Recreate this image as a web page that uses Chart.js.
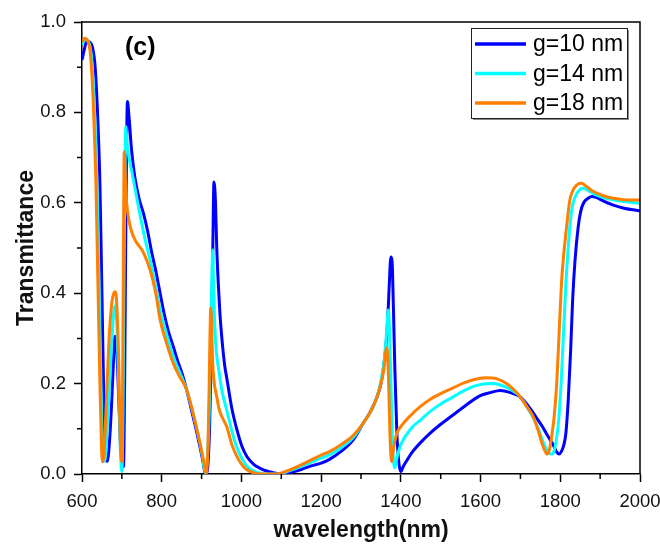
<!DOCTYPE html>
<html>
<head>
<meta charset="utf-8">
<script src="https://cdn.jsdelivr.net/npm/chart.js@4.4.1/dist/chart.umd.min.js"></script>
<style>
  body { margin: 0; background: #fff; }
  #wrap { width: 660px; height: 548px; position: relative; }
</style>
</head>
<body>
<div id="wrap"><canvas id="chartT"></canvas></div>
<script>
// wavelength (nm) and transmittance
const wl10 = [600,606,612,620,626,633,641,645,650,655,660,663,668,674,680,683,687,692,697,701,704,707,710,714,718,724,732,743,754,764,775,785,796,806,817,829,840,850,862,875,886,896,903,908,912,916,920,924,927,929,931,935,938,942,946,952,958,964,976,989,1001,1014,1030,1046,1065,1085,1100,1125,1150,1175,1200,1222,1250,1280,1306,1325,1340,1350,1358,1364,1368,1371,1375,1378,1381,1385,1390,1395,1400,1405,1415,1430,1450,1473,1500,1530,1560,1598,1624,1650,1675,1699,1720,1740,1755,1766,1775,1782,1790,1797,1803,1809,1814,1820,1826,1831,1837,1845,1851,1858,1868,1879,1890,1910,1933,1960,2000];
const t10 = [0.916,0.94,0.958,0.955,0.945,0.90,0.754,0.64,0.40,0.15,0.035,0.028,0.06,0.15,0.27,0.305,0.28,0.17,0.06,0.025,0.016,0.20,0.55,0.824,0.79,0.72,0.66,0.61,0.577,0.54,0.49,0.45,0.40,0.355,0.315,0.282,0.25,0.225,0.188,0.14,0.10,0.06,0.03,0.005,0.0,0.02,0.1,0.25,0.42,0.55,0.646,0.6,0.503,0.42,0.356,0.29,0.24,0.208,0.145,0.097,0.062,0.038,0.022,0.013,0.006,0.002,0.0,0.004,0.01,0.018,0.024,0.033,0.05,0.075,0.113,0.14,0.17,0.2,0.245,0.3,0.36,0.42,0.48,0.47,0.38,0.23,0.09,0.025,0.005,0.015,0.03,0.05,0.07,0.09,0.11,0.13,0.15,0.173,0.18,0.185,0.18,0.171,0.15,0.125,0.105,0.088,0.075,0.065,0.05,0.044,0.05,0.065,0.09,0.164,0.274,0.385,0.473,0.547,0.58,0.599,0.609,0.614,0.612,0.603,0.595,0.588,0.582];

const wl14 = [600,605,610,617,623,629,635,640,645,650,654,657,662,668,675,680,683,687,692,696,700,703,706,710,713,718,727,743,758,771,785,796,812,829,845,862,880,896,903,909,914,919,923,926,928,930,933,937,942,952,963,976,988,1001,1013,1030,1046,1070,1090,1110,1150,1200,1222,1250,1280,1306,1325,1340,1350,1358,1363,1366,1368,1371,1375,1379,1382,1385,1390,1400,1425,1450,1473,1500,1530,1560,1590,1624,1650,1675,1699,1715,1732,1745,1755,1765,1772,1778,1784,1790,1796,1802,1808,1814,1819,1824,1830,1837,1848,1858,1870,1891,1920,1960,2000];
const t14 = [0.95,0.958,0.962,0.955,0.93,0.85,0.72,0.55,0.32,0.10,0.03,0.028,0.08,0.18,0.30,0.36,0.372,0.34,0.20,0.06,0.005,0.15,0.5,0.768,0.73,0.70,0.66,0.585,0.52,0.473,0.415,0.363,0.31,0.26,0.225,0.188,0.13,0.068,0.035,0.003,0.03,0.13,0.3,0.44,0.496,0.42,0.33,0.27,0.237,0.18,0.142,0.095,0.06,0.035,0.018,0.007,0.002,0.0,0.0,0.004,0.017,0.035,0.043,0.058,0.08,0.113,0.14,0.17,0.205,0.25,0.3,0.34,0.363,0.33,0.2,0.07,0.025,0.013,0.035,0.065,0.1,0.12,0.138,0.155,0.17,0.185,0.196,0.2,0.197,0.187,0.171,0.15,0.125,0.1,0.075,0.055,0.046,0.044,0.05,0.075,0.12,0.2,0.31,0.42,0.49,0.547,0.59,0.613,0.628,0.632,0.627,0.617,0.609,0.603,0.599];

const wl18 = [600,607,614,620,625,628,632,635,640,645,649,652,656,662,668,675,680,683,687,692,696,699.5,702,704,706,709,712,718,725,735,754,771,785,796,812,829,845,862,880,896,905,912,916,919,921,923,925,928,932,938,945,952,963,976,988,1000,1013,1030,1046,1070,1090,1100,1150,1200,1222,1250,1280,1306,1325,1340,1350,1357,1361,1364,1367,1370,1373,1377,1382,1390,1400,1425,1450,1475,1500,1530,1560,1590,1615,1640,1665,1685,1699,1715,1732,1745,1755,1762,1766,1772,1778,1785,1791,1797,1803,1808,1814,1824,1832,1841,1853,1866,1883,1910,1933,1960,2000];
const t18 = [0.955,0.964,0.958,0.938,0.88,0.827,0.73,0.643,0.42,0.2,0.06,0.027,0.06,0.18,0.3,0.38,0.4,0.403,0.38,0.25,0.08,0.027,0.2,0.5,0.713,0.65,0.6,0.56,0.535,0.515,0.49,0.451,0.40,0.341,0.29,0.245,0.215,0.188,0.13,0.068,0.03,0.0,0.06,0.19,0.3,0.367,0.33,0.245,0.2,0.171,0.14,0.125,0.105,0.065,0.04,0.022,0.01,0.003,0.0,0.0,0.0,0.002,0.02,0.042,0.05,0.065,0.085,0.113,0.14,0.17,0.2,0.23,0.26,0.28,0.26,0.18,0.08,0.027,0.06,0.09,0.105,0.13,0.15,0.166,0.178,0.19,0.202,0.21,0.213,0.211,0.2,0.185,0.171,0.15,0.127,0.095,0.065,0.05,0.044,0.052,0.08,0.13,0.2,0.31,0.422,0.48,0.532,0.606,0.628,0.639,0.643,0.636,0.625,0.615,0.61,0.607,0.606];

const seriesNames = ["g=10 nm", "g=14 nm", "g=18 nm"];
const seriesColors = ["#0000ff", "#00ffff", "#ff7f00"];
const xTicksMinor = [700, 900, 1100, 1300, 1500, 1700, 1900];
const yTicksMinor = [0.1, 0.3, 0.5, 0.7, 0.9];
const panelLabel = "(c)";

const FONT = 'Arial, "Liberation Sans", sans-serif';

function toPoints(xs, ys) {
    return xs.map((x, i) => ({ x: x, y: ys[i] }));
}

// minor ticks, frame top/right, panel label and boxed legend
const decorPlugin = {
    id: "decor",
    afterDraw(chart) {
        const ctx = chart.ctx;
        const area = chart.chartArea;
        const xs = chart.scales.x, ys = chart.scales.y;
        ctx.save();
        ctx.strokeStyle = "#000";
        ctx.lineWidth = 1.5;
        ctx.beginPath();
        xTicksMinor.forEach(v => {
            const px = xs.getPixelForValue(v);
            ctx.moveTo(px, area.bottom);
            ctx.lineTo(px, area.bottom + 5);
        });
        yTicksMinor.forEach(v => {
            const py = ys.getPixelForValue(v);
            ctx.moveTo(area.left, py);
            ctx.lineTo(area.left - 5, py);
        });
        // top and right frame
        ctx.moveTo(area.left, area.top);
        ctx.lineTo(area.right, area.top);
        ctx.lineTo(area.right, area.bottom);
        ctx.stroke();

        // panel label
        ctx.fillStyle = "#000";
        ctx.font = "bold 25px " + FONT;
        ctx.textBaseline = "middle";
        ctx.textAlign = "left";
        ctx.fillText(panelLabel, area.left + 43, area.top + 26);

        // legend box
        const bx = area.right - 169, by = area.top + 6, bw = 156, bh = 90;
        ctx.fillStyle = "#fff";
        ctx.fillRect(bx, by, bw, bh);
        ctx.strokeStyle = "#888";
        ctx.lineWidth = 2;
        ctx.beginPath();
        ctx.moveTo(bx + 2, by + bh + 1);
        ctx.lineTo(bx + bw + 1, by + bh + 1);
        ctx.lineTo(bx + bw + 1, by + 2);
        ctx.stroke();
        ctx.strokeStyle = "#222";
        ctx.lineWidth = 1;
        ctx.strokeRect(bx + 0.5, by + 0.5, bw, bh);

        ctx.font = "23px " + FONT;
        chart.data.datasets.forEach((ds, i) => {
            const ly = by + 16 + i * 29.5;
            ctx.strokeStyle = ds.borderColor;
            ctx.lineWidth = 3.5;
            ctx.beginPath();
            ctx.moveTo(bx + 4, ly);
            ctx.lineTo(bx + 55, ly);
            ctx.stroke();
            ctx.fillStyle = "#000";
            ctx.fillText(ds.label, bx + 62, ly + 1);
        });
        ctx.restore();
    }
};

new Chart(document.getElementById("chartT"), {
    type: "line",
    data: {
        datasets: [
            { label: seriesNames[0], data: toPoints(wl10, t10), borderColor: seriesColors[0], order: 3 },
            { label: seriesNames[1], data: toPoints(wl14, t14), borderColor: seriesColors[1], order: 2 },
            { label: seriesNames[2], data: toPoints(wl18, t18), borderColor: seriesColors[2], order: 1 }
        ]
    },
    options: {
        responsive: true,
        maintainAspectRatio: false,
        animation: false,
        layout: { padding: { top: 22, right: 20, left: 0, bottom: 0 } },
        elements: {
            line: { borderWidth: 3, cubicInterpolationMode: "monotone", fill: false },
            point: { radius: 0 }
        },
        plugins: { legend: { display: false }, tooltip: { enabled: false } },
        scales: {
            x: {
                type: "linear",
                min: 600,
                max: 2000,
                afterFit: s => { s.height = 74; s.paddingLeft = 0; s.paddingRight = 0; },
                border: { color: "#000", width: 1.5 },
                grid: { drawOnChartArea: false, drawTicks: true, tickLength: 8, tickWidth: 1.5, tickColor: "#000" },
                ticks: { stepSize: 200, color: "#111", padding: 9, font: { family: FONT, size: 18.5 }, maxRotation: 0, callback: v => String(v) },
                title: { display: true, text: "wavelength(nm)", color: "#111", padding: { top: 0, bottom: 4 }, font: { family: FONT, size: 23, weight: "bold" } }
            },
            y: {
                min: 0,
                max: 1,
                afterFit: s => { s.width = 82; s.paddingTop = 0; s.paddingBottom = 0; },
                border: { color: "#000", width: 1.5 },
                grid: { drawOnChartArea: false, drawTicks: true, tickLength: 8, tickWidth: 1.5, tickColor: "#000" },
                ticks: { stepSize: 0.2, color: "#111", padding: 8, font: { family: FONT, size: 18.5 }, callback: v => v.toFixed(1) },
                title: { display: true, text: "Transmittance", color: "#111", padding: { top: 13, bottom: 0 }, font: { family: FONT, size: 23, weight: "bold" } }
            }
        }
    },
    plugins: [decorPlugin]
});
</script>
</body>
</html>
